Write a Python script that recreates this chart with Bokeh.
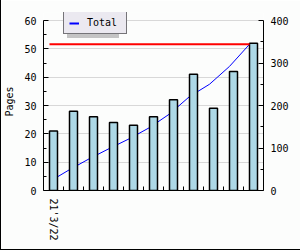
from bokeh.plotting import figure
from bokeh.models import Range1d, LinearAxis, FixedTicker, Legend, LegendItem, ColumnDataSource
from bokeh.transform import dodge
from bokeh.embed import file_html
from bokeh.resources import INLINE

# ---- data ----
x_labels = ["21'3/22", "", "", "", "", "", "", "", "", "", ""]
pages = [21, 28, 26, 24, 23, 26, 32, 41, 29, 42, 52]
total = [21, 49, 75, 99, 122, 148, 180, 221, 250, 292, 344]
goal = 344
left_ticks = [0, 10, 20, 30, 40, 50, 60]
left_minor = [5, 15, 25, 35, 45, 55]
right_ticks = [0, 100, 200, 300, 400]
right_minor = [50, 150, 250, 350]

idx = list(range(len(pages)))
src = ColumnDataSource(dict(x=idx, pages=pages, total=total))
goal_src = ColumnDataSource(dict(x=[idx[0], idx[-1]], y=[goal, goal]))

FONT = "DejaVu Sans Mono"
BG = "#fcfdfc"
SHADOW = "#c4c4c4"
NAN = float("nan")

# frame extends 8px above the 60 / 400 line so the legend is not clipped
AXIS_H = 170
EXTRA = 8
FRAME_H = AXIS_H + EXTRA
left_max, right_max = left_ticks[-1], right_ticks[-1]

p = figure(frame_width=220, frame_height=FRAME_H,
           min_border_left=39, min_border_right=39, min_border_top=20 - EXTRA,
           min_border_bottom=59,
           x_range=Range1d(-0.5, len(pages) - 0.5),
           y_range=Range1d(0, left_max * FRAME_H / AXIS_H),
           output_backend="svg", toolbar_location=None,
           background_fill_color=BG, border_fill_color=BG)
p.extra_y_ranges = {"right": Range1d(0, right_max * FRAME_H / AXIS_H)}
p.outline_line_color = None
p.styles = {"border-left": "1px solid black", "border-right": "1px solid black",
            "border-bottom": "1px solid black"}

# grid
p.xgrid.visible = False
p.ygrid.grid_line_color = "#d8d8d8"
p.ygrid.grid_line_width = 1

# cumulative line (behind bars)
p.line(x=dodge("x", -0.2), y="total", source=src, y_range_name="right",
       line_color="blue", line_width=1)

p.vbar(x="x", top="pages", width=0.4, source=src,
       fill_color="#add8e6", line_color="black", line_width=1.5)

p.line(x=dodge("x", -0.2), y="y", source=goal_src, y_range_name="right",
       line_color="red", line_width=2)

# axes
ya = p.yaxis[0]
ya.ticker = FixedTicker(ticks=left_ticks, minor_ticks=left_minor)
ya.axis_label = "Pages"
ya.bounds = (0, left_max)

ra = LinearAxis(y_range_name="right",
                ticker=FixedTicker(ticks=right_ticks, minor_ticks=right_minor))
ra.bounds = (0, right_max)
p.add_layout(ra, "right")

xa = p.xaxis[0]
xa.ticker = FixedTicker(ticks=idx, minor_ticks=[i + 0.5 for i in idx[:-1]])
xa.major_label_overrides = {i: lab for i, lab in zip(idx, x_labels)}
xa.major_label_orientation = "vertical"
xa.major_tick_in = 0
xa.major_tick_out = 0
xa.minor_tick_in = 4
xa.minor_tick_out = 0
xa.major_label_standoff = 8

for ax in [ya, ra]:
    ax.major_tick_in = 5
    ax.major_tick_out = 0
    ax.minor_tick_in = 3
    ax.minor_tick_out = 0
    ax.major_label_standoff = 7

for ax in [ya, ra, xa]:
    ax.axis_line_color = "black"
    ax.major_tick_line_color = "black"
    ax.minor_tick_line_color = "black"
    ax.major_label_text_font = FONT
    ax.major_label_text_font_size = "10px"
    ax.major_label_text_color = "black"
    ax.axis_label_text_font = FONT
    ax.axis_label_text_font_size = "10px"
    ax.axis_label_text_font_style = "normal"
    ax.axis_label_text_color = "black"
ya.axis_label_standoff = 6

# legend (with drop shadow); proxies hold no drawable points
shadow_proxy = p.line(x=[NAN, NAN], y=[NAN, NAN], line_color=SHADOW, line_width=2)
legend_proxy = p.line(x=[NAN, NAN], y=[NAN, NAN], line_color="blue", line_width=2)

def make_legend(renderer, loc, shadow):
    return Legend(items=[LegendItem(label="Total", renderers=[renderer])],
                  location=loc, padding=5, spacing=0, margin=0,
                  glyph_width=10, glyph_height=10, label_standoff=8,
                  label_height=10, label_width=34,
                  label_text_font=FONT, label_text_font_size="10px",
                  label_text_color=SHADOW if shadow else "black",
                  background_fill_color=SHADOW if shadow else "#ebe9f0",
                  background_fill_alpha=1.0,
                  border_line_color=None if shadow else "black",
                  border_line_width=1)

p.add_layout(make_legend(shadow_proxy, (24, 152), True))
p.add_layout(make_legend(legend_proxy, (20, 156), False))

open("out.html", "w").write(file_html(p, INLINE))
